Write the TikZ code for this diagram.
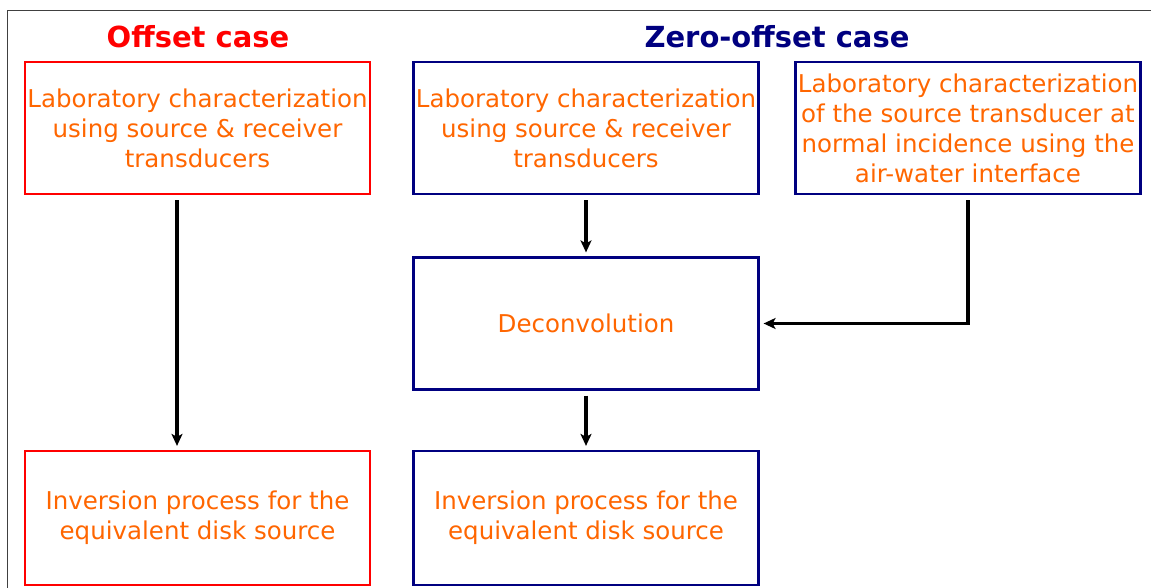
\documentclass[tikz,border=0pt]{standalone}
\usepackage{fontspec}
\setmainfont{DejaVu Sans}
\usetikzlibrary{arrows.meta}
\definecolor{boxred}{RGB}{255,0,0}
\definecolor{boxnavy}{RGB}{0,0,128}
\definecolor{txtorange}{RGB}{255,102,0}
\begin{document}
\begin{tikzpicture}[x=1pt,y=-1pt,
  boxbase/.style={draw, line width=2.2pt, inner sep=0pt, minimum width=345pt, minimum height=132pt,
    align=center, text=txtorange, font=\fontsize{24.5}{30}\selectfont},
  redbox/.style={boxbase, draw=boxred},
  navybox/.style={boxbase, draw=boxnavy},
  titletext/.style={font=\fontsize{29}{34}\selectfont\bfseries, inner sep=0pt},
  flow/.style={line width=3.3pt, -{Stealth[length=12pt,width=11pt,inset=3pt]}, shorten <=5pt, shorten >=4pt}
]
\useasboundingbox (0,0) rectangle (1151,588);
\fill[white] (0,0) rectangle (1151,588);
\draw[black!75, line width=1pt] (7,588) |- (1151,11);

\node[titletext, text=boxred] (t1) at (198,37) {Offset case};
\node[titletext, text=boxnavy] (t2) at (777,37) {Zero-offset case};

\node[redbox] (A) at (197.5,128) {Laboratory characterization\\using source \& receiver\\transducers};
\node[navybox] (B) at (586,128) {Laboratory characterization\\using source \& receiver\\transducers};
\node[navybox] (C) at (968,128) {Laboratory characterization\\of the source transducer at\\normal incidence using the\\air-water interface};
\node[navybox] (D) at (586,323.5) {Deconvolution};
\node[redbox, minimum height=134pt] (E) at (197.5,518) {Inversion process for the\\equivalent disk source};
\node[navybox, minimum height=134pt] (F) at (586,518) {Inversion process for the\\equivalent disk source};

\draw[flow] (A.south -| 177,0) -- (E.north -| 177,0);
\draw[flow] (B.south) -- (D.north);
\draw[flow] (D.south) -- (F.north);
\draw[flow] (C.south) |- (D.east);
\end{tikzpicture}
\end{document}
